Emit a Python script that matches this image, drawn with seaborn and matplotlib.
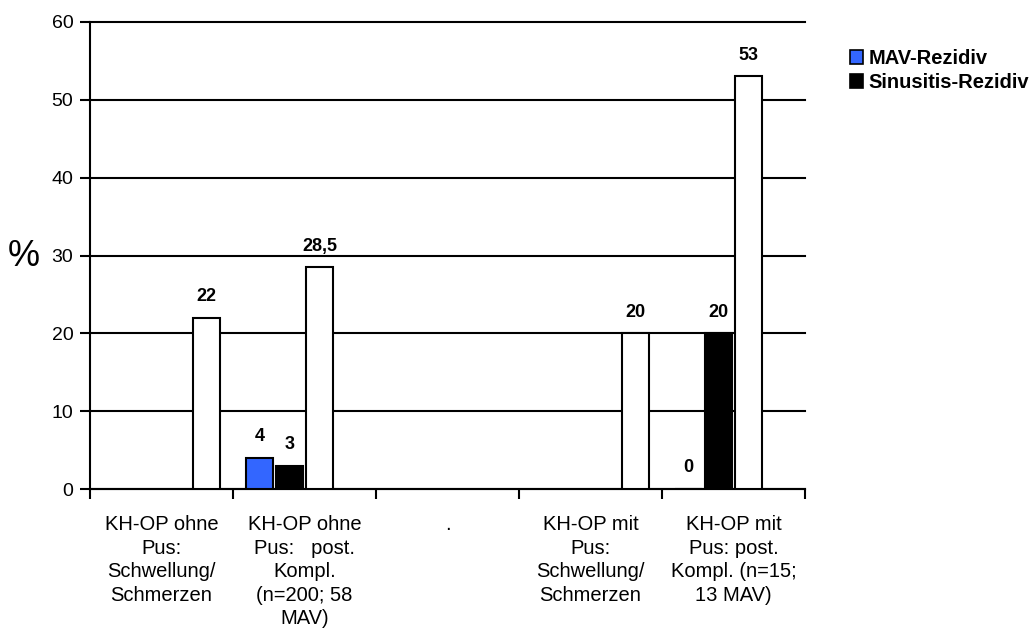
import numpy as np
import pandas as pd
import matplotlib
matplotlib.use("Agg")
import matplotlib.pyplot as plt
from matplotlib.patches import Patch
from matplotlib.ticker import FixedLocator
import seaborn as sns

categories = [
    "KH-OP ohne\nPus:\nSchwellung/\nSchmerzen",
    "KH-OP ohne\nPus:   post.\nKompl.\n(n=200; 58\nMAV)",
    ".",
    "KH-OP mit\nPus:\nSchwellung/\nSchmerzen",
    "KH-OP mit\nPus: post.\nKompl. (n=15;\n13 MAV)",
]
series_names = ["MAV-Rezidiv", "Sinusitis-Rezidiv", "Reihe 3", "Reihe 4"]
mav = [np.nan, 4, np.nan, np.nan, 0]
sinus = [np.nan, 3, np.nan, np.nan, 20]
reihe3 = [np.nan, 28.5, np.nan, np.nan, 53]
reihe4 = [22, np.nan, np.nan, 20, np.nan]
colors = ["#3366FF", "#000000", "#FFFFFF", "#FFFFFF"]
y_ticks = [0, 10, 20, 30, 40, 50, 60]

rows = []
for name, vals in zip(series_names, [mav, sinus, reihe3, reihe4]):
    for cat, v in zip(categories, vals):
        if not np.isnan(v):
            rows.append({"cat": cat, "series": name, "val": v})
df = pd.DataFrame(rows)

plt.rcParams["font.family"] = ["Liberation Sans", "DejaVu Sans"]

fig = plt.figure(figsize=(10.34, 6.33), dpi=100)
ax = fig.add_axes([90 / 1034, 1 - 489 / 633, (805 - 90) / 1034, (489 - 22) / 633])

sns.barplot(data=df, x="cat", y="val", hue="series", order=categories,
            hue_order=series_names, palette=colors, saturation=1,
            edgecolor="black", linewidth=1.5, width=0.84, gap=0.1,
            errorbar=None, legend=False, ax=ax, zorder=3)

for cont in ax.containers:
    ax.bar_label(cont, fmt=lambda v: f"{v:g}".replace(".", ","),
                 padding=9, fontsize=13, fontweight="bold", color="black")

ax.set_xlim(-0.5, 4.5)
ax.set_ylim(0, 60)
ax.set_yticks(y_ticks)
ax.yaxis.grid(True, color="black", linewidth=1.5)
for gl in ax.get_ygridlines():
    gl.set_clip_on(False)
ax.set_axisbelow(True)
for s in ["top", "right"]:
    ax.spines[s].set_visible(False)
for s in ["left", "bottom"]:
    ax.spines[s].set_linewidth(1.5)

ax.tick_params(axis="y", direction="out", length=7, width=1.5, labelsize=14, pad=5)
ax.tick_params(axis="x", which="major", length=0, labelsize=14.5, pad=19)
ax.xaxis.set_minor_locator(FixedLocator(np.arange(-0.5, 5, 1)))
ax.tick_params(axis="x", which="minor", direction="out", length=7, width=1.5)
for lbl in ax.get_xticklabels():
    lbl.set_linespacing(1.3)
ax.set_xlabel("")
ax.set_ylabel("")

fig.text(8 / 1034, 1 - 256 / 633, "%", fontsize=26, va="center", ha="left")

handles = [Patch(facecolor=colors[0], edgecolor="black", linewidth=1.2),
           Patch(facecolor=colors[1], edgecolor="black", linewidth=1.2)]
fig.legend(handles, series_names[:2], loc="upper left",
           bbox_to_anchor=(842 / 1034, 1 - 41 / 633), frameon=False,
           prop={"size": 14.5, "weight": "bold"}, handlelength=0.65,
           handleheight=0.65, handletextpad=0.25, labelspacing=0.25,
           borderaxespad=0)

fig.savefig("out.png", dpi=100)
